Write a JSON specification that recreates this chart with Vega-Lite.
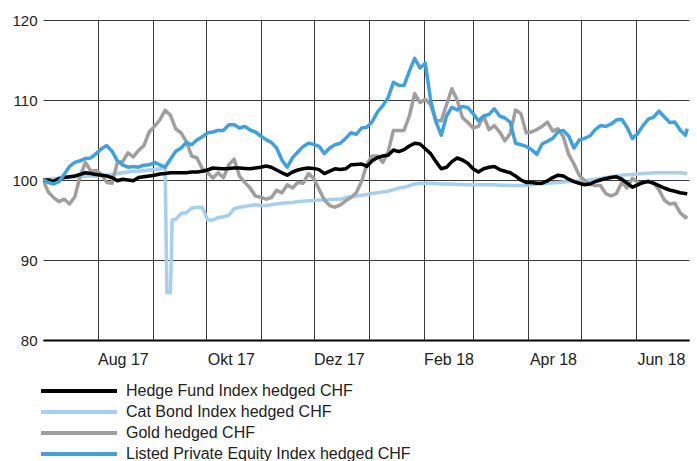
{
  "$schema": "https://vega.github.io/schema/vega-lite/v6.json",
  "width": 646,
  "height": 320,
  "autosize": {"type": "none"},
  "padding": {"left": 43, "top": 20, "right": 8, "bottom": 121},
  "background": "white",
  "config": {
    "view": {"stroke": null},
    "font": "Liberation Sans",
    "axis": {"labelFont": "Liberation Sans", "labelColor": "#222222", "title": null}
  },
  "data": {"values": [
    {"date":"2017-07-01","hf":100.0,"cb":100.0,"gold":100.0,"pe":100.1},
    {"date":"2017-07-04","hf":100.0,"cb":100.1,"gold":98.5,"pe":99.7},
    {"date":"2017-07-07","hf":99.8,"cb":100.2,"gold":97.8,"pe":99.5},
    {"date":"2017-07-10","hf":100.2,"cb":100.2,"gold":97.3,"pe":99.8},
    {"date":"2017-07-13","hf":100.3,"cb":100.3,"gold":97.6,"pe":100.7},
    {"date":"2017-07-16","hf":100.4,"cb":100.3,"gold":97.0,"pe":101.7},
    {"date":"2017-07-19","hf":100.5,"cb":100.4,"gold":97.9,"pe":102.2},
    {"date":"2017-07-22","hf":100.7,"cb":100.4,"gold":100.5,"pe":102.4},
    {"date":"2017-07-25","hf":100.9,"cb":100.5,"gold":102.2,"pe":102.7},
    {"date":"2017-07-28","hf":100.8,"cb":100.5,"gold":101.1,"pe":102.75},
    {"date":"2017-07-31","hf":100.7,"cb":100.5,"gold":101.2,"pe":103.3},
    {"date":"2017-08-03","hf":100.6,"cb":100.6,"gold":100.7,"pe":103.9},
    {"date":"2017-08-06","hf":100.5,"cb":100.6,"gold":99.7,"pe":104.3},
    {"date":"2017-08-09","hf":100.3,"cb":100.7,"gold":99.6,"pe":103.6},
    {"date":"2017-08-12","hf":99.9,"cb":100.8,"gold":102.2,"pe":102.4},
    {"date":"2017-08-15","hf":100.1,"cb":100.9,"gold":102.3,"pe":101.9},
    {"date":"2017-08-18","hf":100.0,"cb":101.0,"gold":103.4,"pe":101.6},
    {"date":"2017-08-21","hf":99.9,"cb":101.1,"gold":102.9,"pe":101.7},
    {"date":"2017-08-24","hf":100.3,"cb":101.1,"gold":103.7,"pe":101.6},
    {"date":"2017-08-27","hf":100.4,"cb":101.2,"gold":104.3,"pe":101.85},
    {"date":"2017-08-30","hf":100.5,"cb":101.25,"gold":106.0,"pe":101.9},
    {"date":"2017-09-02","hf":100.6,"cb":101.3,"gold":106.7,"pe":102.2},
    {"date":"2017-09-05","hf":100.75,"cb":101.4,"gold":107.5,"pe":101.9},
    {"date":"2017-09-08","hf":100.8,"cb":101.5,"gold":108.7,"pe":101.6},
    {"date":"2017-09-09","cb":85.9},
    {"date":"2017-09-11","hf":100.9,"cb":85.9,"gold":108.1,"pe":102.6},
    {"date":"2017-09-12","cb":95.0},
    {"date":"2017-09-14","hf":100.9,"cb":95.1,"gold":106.4,"pe":103.6},
    {"date":"2017-09-17","hf":100.9,"cb":95.8,"gold":105.9,"pe":104.0},
    {"date":"2017-09-20","hf":100.9,"cb":95.9,"gold":104.8,"pe":104.7},
    {"date":"2017-09-23","hf":101.0,"cb":96.5,"gold":103.0,"pe":104.4},
    {"date":"2017-09-26","hf":101.0,"cb":96.6,"gold":102.75,"pe":105.0},
    {"date":"2017-09-29","hf":101.1,"cb":96.6,"gold":101.4,"pe":105.4},
    {"date":"2017-10-02","hf":101.25,"cb":95.0,"gold":100.9,"pe":105.9},
    {"date":"2017-10-05","hf":101.5,"cb":95.0,"gold":100.25,"pe":106.0},
    {"date":"2017-10-08","hf":101.45,"cb":95.3,"gold":100.9,"pe":106.2},
    {"date":"2017-10-11","hf":101.4,"cb":95.4,"gold":100.3,"pe":106.2},
    {"date":"2017-10-14","hf":101.45,"cb":95.6,"gold":101.9,"pe":106.9},
    {"date":"2017-10-17","hf":101.5,"cb":96.4,"gold":102.6,"pe":106.9},
    {"date":"2017-10-20","hf":101.5,"cb":96.6,"gold":100.5,"pe":106.5},
    {"date":"2017-10-23","hf":101.45,"cb":96.7,"gold":99.7,"pe":106.7},
    {"date":"2017-10-26","hf":101.4,"cb":96.8,"gold":99.0,"pe":106.25},
    {"date":"2017-10-29","hf":101.5,"cb":96.9,"gold":98.0,"pe":106.0},
    {"date":"2017-11-01","hf":101.6,"cb":96.8,"gold":97.85,"pe":105.5},
    {"date":"2017-11-04","hf":101.75,"cb":96.8,"gold":97.6,"pe":105.05},
    {"date":"2017-11-07","hf":101.6,"cb":96.9,"gold":97.8,"pe":104.7},
    {"date":"2017-11-10","hf":101.25,"cb":97.0,"gold":98.7,"pe":104.0},
    {"date":"2017-11-13","hf":100.9,"cb":97.1,"gold":98.4,"pe":102.5},
    {"date":"2017-11-16","hf":100.6,"cb":97.15,"gold":99.4,"pe":101.6},
    {"date":"2017-11-19","hf":101.0,"cb":97.2,"gold":99.0,"pe":102.8},
    {"date":"2017-11-22","hf":101.25,"cb":97.3,"gold":99.7,"pe":103.5},
    {"date":"2017-11-25","hf":101.4,"cb":97.35,"gold":99.6,"pe":104.2},
    {"date":"2017-11-28","hf":101.5,"cb":97.4,"gold":100.8,"pe":104.6},
    {"date":"2017-12-01","hf":101.45,"cb":97.45,"gold":100.2,"pe":104.45},
    {"date":"2017-12-04","hf":101.3,"cb":97.5,"gold":98.8,"pe":104.2},
    {"date":"2017-12-07","hf":100.8,"cb":97.5,"gold":97.5,"pe":103.3},
    {"date":"2017-12-10","hf":101.1,"cb":97.55,"gold":96.8,"pe":104.0},
    {"date":"2017-12-13","hf":101.4,"cb":97.6,"gold":96.6,"pe":104.4},
    {"date":"2017-12-16","hf":101.3,"cb":97.6,"gold":96.9,"pe":104.6},
    {"date":"2017-12-19","hf":101.4,"cb":97.8,"gold":97.4,"pe":105.2},
    {"date":"2017-12-22","hf":101.9,"cb":97.9,"gold":97.8,"pe":105.9},
    {"date":"2017-12-25","hf":101.95,"cb":98.0,"gold":98.4,"pe":105.7},
    {"date":"2017-12-28","hf":102.0,"cb":98.1,"gold":99.8,"pe":106.5},
    {"date":"2017-12-31","hf":101.7,"cb":98.2,"gold":102.0,"pe":106.6},
    {"date":"2018-01-03","hf":102.4,"cb":98.3,"gold":103.0,"pe":107.3},
    {"date":"2018-01-06","hf":102.8,"cb":98.4,"gold":103.0,"pe":108.5},
    {"date":"2018-01-09","hf":103.0,"cb":98.5,"gold":102.2,"pe":109.3},
    {"date":"2018-01-12","hf":103.1,"cb":98.6,"gold":103.5,"pe":110.3},
    {"date":"2018-01-15","hf":103.75,"cb":98.8,"gold":106.2,"pe":112.2},
    {"date":"2018-01-18","hf":103.55,"cb":99.0,"gold":106.2,"pe":111.85},
    {"date":"2018-01-21","hf":103.8,"cb":99.1,"gold":106.2,"pe":111.8},
    {"date":"2018-01-24","hf":104.25,"cb":99.3,"gold":108.0,"pe":113.6},
    {"date":"2018-01-27","hf":104.6,"cb":99.5,"gold":110.8,"pe":115.2},
    {"date":"2018-01-30","hf":104.5,"cb":99.6,"gold":109.7,"pe":114.0},
    {"date":"2018-02-02","hf":103.9,"cb":99.6,"gold":110.1,"pe":114.6},
    {"date":"2018-02-05","hf":103.3,"cb":99.6,"gold":109.4,"pe":110.0},
    {"date":"2018-02-08","hf":102.3,"cb":99.55,"gold":107.4,"pe":107.3},
    {"date":"2018-02-11","hf":101.4,"cb":99.5,"gold":107.4,"pe":105.6},
    {"date":"2018-02-14","hf":101.6,"cb":99.5,"gold":109.4,"pe":108.0},
    {"date":"2018-02-17","hf":102.3,"cb":99.5,"gold":111.4,"pe":109.1},
    {"date":"2018-02-20","hf":102.75,"cb":99.45,"gold":110.0,"pe":108.75},
    {"date":"2018-02-23","hf":102.5,"cb":99.45,"gold":107.8,"pe":109.2},
    {"date":"2018-02-26","hf":102.1,"cb":99.4,"gold":107.2,"pe":109.05},
    {"date":"2018-03-01","hf":101.4,"cb":99.4,"gold":106.5,"pe":108.3},
    {"date":"2018-03-04","hf":101.0,"cb":99.4,"gold":106.7,"pe":107.4},
    {"date":"2018-03-07","hf":101.4,"cb":99.4,"gold":108.0,"pe":108.0},
    {"date":"2018-03-10","hf":101.6,"cb":99.4,"gold":106.3,"pe":108.2},
    {"date":"2018-03-13","hf":101.7,"cb":99.4,"gold":106.8,"pe":108.9},
    {"date":"2018-03-16","hf":101.3,"cb":99.35,"gold":106.0,"pe":108.0},
    {"date":"2018-03-19","hf":101.1,"cb":99.35,"gold":104.9,"pe":107.75},
    {"date":"2018-03-22","hf":100.9,"cb":99.3,"gold":105.8,"pe":107.2},
    {"date":"2018-03-25","hf":100.5,"cb":99.3,"gold":108.75,"pe":104.6},
    {"date":"2018-03-28","hf":100.0,"cb":99.3,"gold":108.3,"pe":104.4},
    {"date":"2018-03-31","hf":99.7,"cb":99.35,"gold":105.9,"pe":104.2},
    {"date":"2018-04-03","hf":99.7,"cb":99.4,"gold":106.0,"pe":103.8},
    {"date":"2018-04-06","hf":99.6,"cb":99.5,"gold":106.3,"pe":103.2},
    {"date":"2018-04-09","hf":99.6,"cb":99.5,"gold":106.7,"pe":104.5},
    {"date":"2018-04-12","hf":99.9,"cb":99.6,"gold":107.25,"pe":104.85},
    {"date":"2018-04-15","hf":100.3,"cb":99.65,"gold":106.1,"pe":105.2},
    {"date":"2018-04-18","hf":100.6,"cb":99.7,"gold":106.4,"pe":106.0},
    {"date":"2018-04-21","hf":100.5,"cb":99.75,"gold":105.4,"pe":106.2},
    {"date":"2018-04-24","hf":100.1,"cb":99.8,"gold":103.2,"pe":105.5},
    {"date":"2018-04-27","hf":99.8,"cb":99.85,"gold":102.0,"pe":104.0},
    {"date":"2018-04-30","hf":99.6,"cb":99.9,"gold":100.6,"pe":105.0},
    {"date":"2018-05-03","hf":99.4,"cb":99.95,"gold":99.9,"pe":105.2},
    {"date":"2018-05-06","hf":99.5,"cb":100.0,"gold":99.5,"pe":105.5},
    {"date":"2018-05-09","hf":99.8,"cb":100.1,"gold":99.3,"pe":106.3},
    {"date":"2018-05-12","hf":100.0,"cb":100.2,"gold":99.3,"pe":106.8},
    {"date":"2018-05-15","hf":100.2,"cb":100.3,"gold":98.3,"pe":106.7},
    {"date":"2018-05-18","hf":100.3,"cb":100.45,"gold":98.0,"pe":107.0},
    {"date":"2018-05-21","hf":100.4,"cb":100.5,"gold":98.3,"pe":107.5},
    {"date":"2018-05-24","hf":100.1,"cb":100.6,"gold":99.7,"pe":107.6},
    {"date":"2018-05-27","hf":99.6,"cb":100.65,"gold":99.0,"pe":106.6},
    {"date":"2018-05-30","hf":99.1,"cb":100.7,"gold":100.2,"pe":105.2},
    {"date":"2018-06-02","hf":99.4,"cb":100.75,"gold":99.7,"pe":105.8},
    {"date":"2018-06-05","hf":99.7,"cb":100.8,"gold":99.6,"pe":106.8},
    {"date":"2018-06-08","hf":99.8,"cb":100.85,"gold":99.9,"pe":107.6},
    {"date":"2018-06-11","hf":99.6,"cb":100.9,"gold":99.6,"pe":107.85},
    {"date":"2018-06-14","hf":99.3,"cb":100.9,"gold":98.8,"pe":108.6},
    {"date":"2018-06-17","hf":99.0,"cb":100.9,"gold":97.5,"pe":107.9},
    {"date":"2018-06-20","hf":98.75,"cb":100.9,"gold":97.0,"pe":107.2},
    {"date":"2018-06-23","hf":98.6,"cb":100.9,"gold":97.1,"pe":107.25},
    {"date":"2018-06-26","hf":98.4,"cb":100.9,"gold":95.9,"pe":106.25},
    {"date":"2018-06-29","hf":98.3,"cb":100.85,"gold":95.3,"pe":105.6},
    {"date":"2018-06-30","hf":98.25,"cb":100.8,"gold":95.5,"pe":106.4}
  ]},
  "transform": [
    {"fold": ["cb", "gold", "hf", "pe"], "as": ["series", "value"]},
    {"filter": "isValid(datum.value)"}
  ],
  "mark": {"type": "line", "strokeWidth": 3.5, "strokeJoin": "round", "strokeCap": "butt", "clip": true},
  "encoding": {
    "x": {
      "field": "date",
      "type": "temporal",
      "scale": {"type": "utc", "domain": [{"year": 2017, "month": 7, "date": 1, "utc": true}, {"year": 2018, "month": 7, "date": 1, "utc": true}]},
      "axis": {
        "values": [
          {"year": 2017, "month": 8, "date": 1, "utc": true},
          {"year": 2017, "month": 9, "date": 1, "utc": true},
          {"year": 2017, "month": 10, "date": 1, "utc": true},
          {"year": 2017, "month": 11, "date": 1, "utc": true},
          {"year": 2017, "month": 12, "date": 1, "utc": true},
          {"year": 2018, "month": 1, "date": 1, "utc": true},
          {"year": 2018, "month": 2, "date": 1, "utc": true},
          {"year": 2018, "month": 3, "date": 1, "utc": true},
          {"year": 2018, "month": 4, "date": 1, "utc": true},
          {"year": 2018, "month": 5, "date": 1, "utc": true},
          {"year": 2018, "month": 6, "date": 1, "utc": true}
        ],
        "labelExpr": "utcmonth(datum.value) % 2 == 1 ? ['Jan','Feb','Mär','Apr','Mai','Jun','Jul','Aug','Sep','Okt','Nov','Dez'][utcmonth(datum.value)] + ' ' + utcFormat(datum.value, '%y') : ''",
        "labelOffset": 25,
        "labelPadding": 11,
        "labelFontSize": 16,
        "labelFlush": false,
        "labelOverlap": false,
        "labelBound": false,
        "ticks": false,
        "grid": true,
        "gridColor": "#3a3a3a",
        "gridWidth": 1,
        "domain": true,
        "domainColor": "#000000",
        "domainWidth": 2
      }
    },
    "y": {
      "field": "value",
      "type": "quantitative",
      "scale": {"domain": [80, 120], "nice": false, "zero": false},
      "axis": {
        "values": [80, 90, 100, 110, 120],
        "labelFontSize": 15,
        "labelPadding": 6,
        "ticks": false,
        "domain": false,
        "grid": true,
        "gridColor": "#3a3a3a",
        "gridWidth": 1
      }
    },
    "color": {
      "field": "series",
      "type": "nominal",
      "scale": {"domain": ["hf", "cb", "gold", "pe"], "range": ["#000000", "#a6cff0", "#a09f9d", "#3fa1de"]},
      "legend": {
        "title": null,
        "orient": "none",
        "legendX": 56,
        "legendY": 361,
        "direction": "vertical",
        "padding": 0,
        "symbolType": "M-8.5,0H1",
        "symbolSize": 256,
        "symbolStrokeWidth": 4,
        "labelFontSize": 16,
        "labelFont": "Liberation Sans",
        "labelColor": "#222222",
        "labelOffset": 7,
        "labelLimit": 0,
        "rowPadding": 3,
        "labelExpr": "{'hf': 'Hedge Fund Index hedged CHF', 'cb': 'Cat Bond Index hedged CHF', 'gold': 'Gold hedged CHF', 'pe': 'Listed Private Equity Index hedged CHF'}[datum.label]"
      }
    }
  }
}
